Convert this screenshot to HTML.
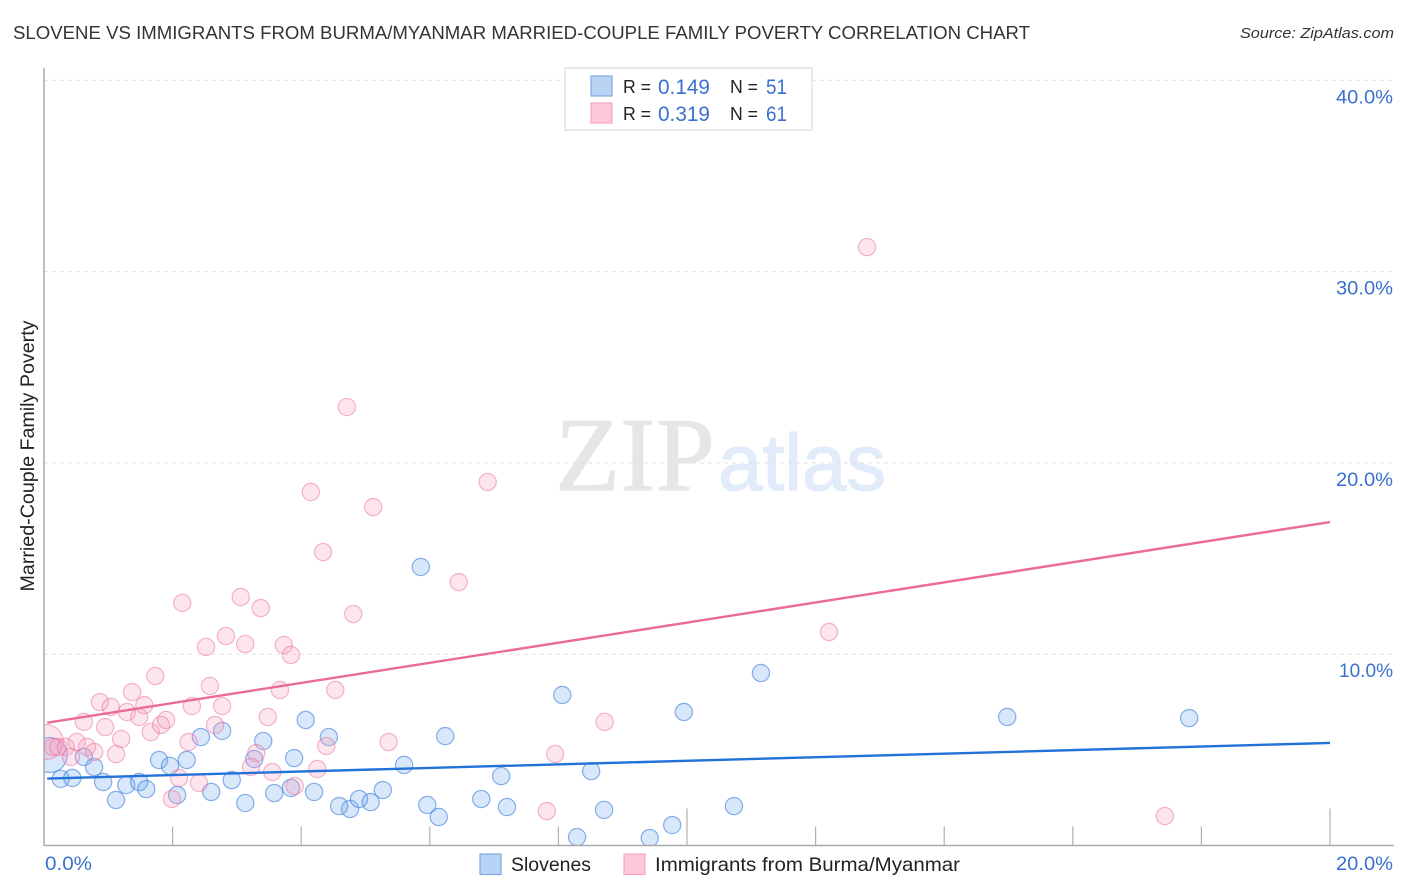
<!DOCTYPE html>
<html lang="en">
<head>
<meta charset="utf-8">
<title>Slovene vs Immigrants from Burma/Myanmar Married-Couple Family Poverty Correlation Chart</title>
<style>
html,body{margin:0;padding:0;background:#fff;width:1406px;height:892px;overflow:hidden}
svg{display:block;font-family:"Liberation Sans",sans-serif}
</style>
</head>
<body>
<svg id="chart" xmlns="http://www.w3.org/2000/svg" width="1406" height="892" viewBox="0 0 1406 892">
  <text x="13" y="39" font-size="18.6" fill="#333" textLength="1017" lengthAdjust="spacingAndGlyphs">SLOVENE VS IMMIGRANTS FROM BURMA/MYANMAR MARRIED-COUPLE FAMILY POVERTY CORRELATION CHART</text>
  <text x="1394" y="38" font-size="15" font-style="italic" fill="#333" text-anchor="end" textLength="154" lengthAdjust="spacingAndGlyphs">Source: ZipAtlas.com</text>
  <g>
    <text x="555" y="490" font-family="'Liberation Serif',serif" font-size="105" fill="#e6e6e6" stroke="#e6e6e6" stroke-width="1" textLength="160" lengthAdjust="spacingAndGlyphs">ZIP</text>
    <text x="718" y="490" font-size="80" fill="#e2ebf9" stroke="#e2ebf9" stroke-width="1.2" textLength="168" lengthAdjust="spacingAndGlyphs">atlas</text>
  </g>
  <g id="grid"></g>
  <g id="marks"></g>
  <rect x="0" y="60" width="44" height="800" fill="#fff"/>
  <rect x="0" y="845.5" width="1406" height="46.5" fill="#fff"/>
  <g id="axes"></g>
  <text transform="translate(34,456) rotate(-90)" font-size="19" fill="#222" text-anchor="middle" textLength="271" lengthAdjust="spacingAndGlyphs">Married-Couple Family Poverty</text>
  <g>
    <rect x="565" y="68" width="247" height="62" fill="#fff" stroke="#e2e2e2" stroke-width="1.5"/>
    <rect x="591" y="76" width="21" height="20" fill="#b9d3f5" stroke="#7eaae6" stroke-width="1.2"/>
    <rect x="591" y="103" width="21" height="20" fill="#fdc8da" stroke="#f5a6c0" stroke-width="1.2"/>
    <g font-size="20" fill="#222">
      <text x="623" y="93" font-size="18" textLength="28" lengthAdjust="spacingAndGlyphs">R =</text>
      <text x="658" y="94" fill="#3a70d0" font-size="21" textLength="52" lengthAdjust="spacingAndGlyphs">0.149</text>
      <text x="730" y="93" font-size="18" textLength="28" lengthAdjust="spacingAndGlyphs">N =</text>
      <text x="766" y="94" fill="#3a70d0" font-size="21" textLength="21" lengthAdjust="spacingAndGlyphs">51</text>
      <text x="623" y="120" font-size="18" textLength="28" lengthAdjust="spacingAndGlyphs">R =</text>
      <text x="658" y="121" fill="#3a70d0" font-size="21" textLength="52" lengthAdjust="spacingAndGlyphs">0.319</text>
      <text x="730" y="120" font-size="18" textLength="28" lengthAdjust="spacingAndGlyphs">N =</text>
      <text x="766" y="121" fill="#3a70d0" font-size="21" textLength="21" lengthAdjust="spacingAndGlyphs">61</text>
    </g>
  </g>
  <g>
    <rect x="480" y="854" width="21" height="20.500" fill="#b9d3f5" stroke="#7eaae6" stroke-width="1.2"/>
    <text x="511" y="871" font-size="19.500" fill="#222" textLength="80" lengthAdjust="spacingAndGlyphs">Slovenes</text>
    <rect x="624" y="854" width="21" height="20.500" fill="#fdc8da" stroke="#f5a6c0" stroke-width="1.2"/>
    <text x="655" y="871" font-size="19.500" fill="#222" textLength="305" lengthAdjust="spacingAndGlyphs">Immigrants from Burma/Myanmar</text>
  </g>
</svg>
<script>
var sloveneX = [0.09,0.26,0.44,0.62,0.78,0.92,1.12,1.28,1.48,1.59,1.79,1.96,2.22,2.07,2.44,2.77,2.60,2.92,3.13,3.41,3.27,3.58,3.89,3.84,4.07,4.43,4.20,4.59,4.76,4.90,5.08,5.27,5.60,6.24,5.96,6.14,8.06,11.15,9.95,7.11,6.80,7.20,8.51,8.71,10.73,9.77,8.29,9.42,5.86,14.98,17.81];
var sloveneY = [4.73,3.48,3.53,4.63,4.10,3.32,2.38,3.16,3.32,2.95,4.47,4.16,4.47,2.64,5.67,5.99,2.80,3.42,2.22,5.46,4.52,2.74,4.57,3.01,6.56,5.67,2.80,2.06,1.91,2.43,2.27,2.90,4.21,5.72,2.12,1.49,7.87,9.02,6.98,3.63,2.43,2.01,3.89,1.86,2.06,1.07,0.44,0.39,14.56,6.72,6.66];
var immigrantX = [0.03,0.14,0.22,0.34,0.42,0.51,0.67,0.78,1.12,1.20,0.95,0.62,0.87,1.04,1.37,1.29,1.48,1.56,1.73,1.66,1.82,1.90,2.30,2.58,2.77,2.66,2.25,2.10,2.41,1.99,3.48,3.67,4.53,3.30,3.22,3.55,3.90,4.25,4.39,5.36,2.52,2.83,3.13,3.73,3.84,12.80,4.71,6.90,4.15,5.12,4.34,6.45,2.15,3.06,3.37,4.81,12.21,8.72,7.95,7.82,17.43];
var immigrantY = [5.41,5.15,5.15,5.15,4.63,5.41,5.15,4.89,4.78,5.57,6.19,6.46,7.50,7.24,8.02,6.98,6.72,7.34,8.86,5.93,6.30,6.56,7.29,8.34,7.29,6.30,5.41,3.53,3.27,2.43,6.72,8.13,8.13,4.83,4.10,3.84,3.11,4.00,5.20,5.41,10.38,10.95,10.53,10.48,9.96,31.28,22.92,19.00,18.48,17.69,15.34,13.77,12.68,12.99,12.41,12.10,11.16,6.46,4.78,1.80,1.54];
var sloveneTrendX = [0.05,20];
var sloveneTrendY = [3.50,5.36];
var immigrantTrendX = [0.05,20];
var immigrantTrendY = [6.42,16.91];
var yTicks = [10,20,30,40];
var yTickLabels = ["10.0%","20.0%","30.0%","40.0%"];
var xTicks = [2,4,6,8,10,12,14,16,18,20];
var xMajorTicks = [10,20];
var xEndLabels = ["0.0%","20.0%"];

var NS = 'http://www.w3.org/2000/svg';
function xScale(v){ return 44 + v * 64.3; }
function yScale(v){ return 845.5 - v * 19.13; }
function make(tag, attrs, parent){
  var el = document.createElementNS(NS, tag);
  for (var k in attrs) el.setAttribute(k, attrs[k]);
  parent.appendChild(el);
  return el;
}
var grid = document.getElementById('grid');
var marks = document.getElementById('marks');
var axes = document.getElementById('axes');

yTicks.forEach(function(t, i){
  var y = yScale(t);
  var line = make('line', {x1:44, x2:1394, y1:y, y2:y, stroke:'#e0e0e0', 'stroke-width':1, 'stroke-dasharray':'4 4'}, grid);
  
  
  var label = make('text', {x:1393, y:y + 23, 'text-anchor':'end', 'font-size':19.500, fill:'#3a70d0', textLength:i === 0 ? 54 : 57, lengthAdjust:'spacingAndGlyphs'}, axes);
  label.textContent = yTickLabels[i];
  
  
});

var yAxis = make('line', {x1:44, x2:44, y1:68, y2:846, stroke:'#aaa', 'stroke-width':1.5}, axes);


var xAxis = make('line', {x1:44, x2:1394, y1:845.5, y2:845.5, stroke:'#aaa', 'stroke-width':1.5}, axes);



xTicks.forEach(function(t){
  var x = xScale(t);
  var len = xMajorTicks.indexOf(t) >= 0 ? 37 : 19;
  var tick = make('line', {x1:x, x2:x, y1:845.5 - len, y2:845.5, stroke:'#b0b0b0', 'stroke-width':1.2}, axes);
  
  
});

var xLabelLeft = make('text', {x:45, y:870, 'font-size':19.500, fill:'#3a70d0', textLength:47, lengthAdjust:'spacingAndGlyphs'}, axes);
xLabelLeft.textContent = xEndLabels[0];


var xLabelRight = make('text', {x:1393, y:870, 'text-anchor':'end', 'font-size':19.500, fill:'#3a70d0', textLength:57, lengthAdjust:'spacingAndGlyphs'}, axes);
xLabelRight.textContent = xEndLabels[1];



function radiusFor(index){ return index === 0 ? 17.5 : 8.6; }

sloveneX.forEach(function(v, i){
  var c = make('circle', {cx:xScale(v), cy:yScale(sloveneY[i]), r:radiusFor(i), fill:'rgba(110,165,235,0.27)', stroke:'rgba(60,125,220,0.6)', 'stroke-width':1.2}, marks);
  
  
});
immigrantX.forEach(function(v, i){
  var c = make('circle', {cx:xScale(v), cy:yScale(immigrantY[i]), r:radiusFor(i), fill:'rgba(248,160,188,0.27)', stroke:'rgba(235,110,155,0.5)', 'stroke-width':1.2}, marks);
  
  
});

var sloveneLine = make('line', {x1:xScale(sloveneTrendX[0]), y1:yScale(sloveneTrendY[0]), x2:xScale(sloveneTrendX[1]), y2:yScale(sloveneTrendY[1]), stroke:'#2272d8', 'stroke-width':2.4}, marks);


var immigrantLine = make('line', {x1:xScale(immigrantTrendX[0]), y1:yScale(immigrantTrendY[0]), x2:xScale(immigrantTrendX[1]), y2:yScale(immigrantTrendY[1]), stroke:'#ea6a98', 'stroke-width':2.4}, marks);


</script>
</body>
</html>
